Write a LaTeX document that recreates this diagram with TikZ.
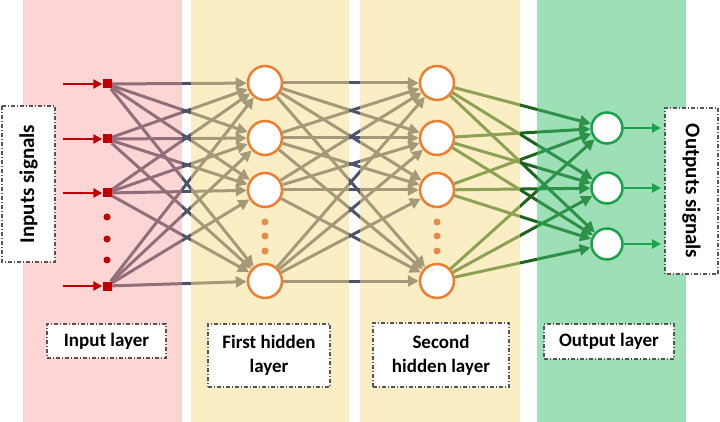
\documentclass[tikz,border=0pt]{standalone}
\usepackage{fontspec}
\setmainfont{Carlito}
\usetikzlibrary{arrows.meta}
\pgfdeclarelayer{lines}
\pgfdeclarelayer{bands}
\pgfsetlayers{lines,bands,main}
\definecolor{lgray}{HTML}{4E5468}
\definecolor{lgreen}{RGB}{30,100,30}
\definecolor{bpink}{RGB}{250,150,150}
\definecolor{byellow}{RGB}{251,223,139}
\definecolor{bgreen}{RGB}{61,193,113}
\definecolor{inred}{HTML}{C00000}
\definecolor{horange}{HTML}{ED7D31}
\definecolor{dorange}{HTML}{E8884A}
\definecolor{ogreen}{HTML}{1AA34A}
\definecolor{boxgray}{HTML}{555555}
\tikzset{
  inp/.style={rectangle, fill=inred, minimum size=9pt, inner sep=0pt},
  hid/.style={circle, draw=horange, line width=2.5pt, fill=white, minimum size=34pt, inner sep=0pt},
  outn/.style={circle, draw=ogreen, line width=2.5pt, fill=white, minimum size=31pt, inner sep=0pt},
  conn/.style={line width=3pt, draw=lgray, -{Triangle[length=11pt,width=11pt]}},
  gconn/.style={line width=3pt, draw=lgreen, -{Triangle[length=11pt,width=11pt]}},
  inarrow/.style={line width=2.6pt, draw=inred, -{Triangle[length=9pt,width=9pt]}},
  outarrow/.style={line width=2.6pt, draw=ogreen, -{Triangle[length=9pt,width=9pt]}},
  rdot/.style={circle, fill=inred, minimum size=7pt, inner sep=0pt},
  odot/.style={circle, fill=dorange, minimum size=7pt, inner sep=0pt},
  lbox/.style={draw=boxgray, fill=white, line width=1.2pt,
    dash pattern=on 4pt off 2pt on 1pt off 2pt, inner sep=0pt, align=center,
    font=\fontsize{19}{24}\selectfont\bfseries},
  sbox/.style={lbox, font=\fontsize{21}{25}\selectfont\bfseries},
}
\begin{document}
\begin{tikzpicture}[x=1pt,y=-1pt]
\useasboundingbox (0,0) rectangle (720,422);
\begin{pgfonlayer}{lines}
  \fill[white] (0,0) rectangle (720,422);
\end{pgfonlayer}
\begin{pgfonlayer}{bands}
  \fill[bpink, fill opacity=0.4] (23,0) rectangle (182,422);
  \fill[byellow, fill opacity=0.5] (191,0) rectangle (349,422);
  \fill[byellow, fill opacity=0.5] (360,0) rectangle (520,422);
  \fill[bgreen, fill opacity=0.5] (537,0) rectangle (686,422);
\end{pgfonlayer}
% input nodes
\node[inp] (in1) at (107,84) {};
\node[inp] (in2) at (107,139) {};
\node[inp] (in3) at (107,193) {};
\node[inp] (in4) at (107,286) {};
\node[rdot] (rd1) at (107,217) {};
\node[rdot] (rd2) at (107,239) {};
\node[rdot] (rd3) at (107,260) {};
% first hidden
\node[hid] (ha1) at (265,83) {};
\node[hid] (ha2) at (265,138) {};
\node[hid] (ha3) at (265,190) {};
\node[hid] (ha4) at (265,281) {};
\node[odot] (oa1) at (265,222) {};
\node[odot] (oa2) at (265,236) {};
\node[odot] (oa3) at (265,251) {};
% second hidden
\node[hid] (hb1) at (437,83) {};
\node[hid] (hb2) at (437,138) {};
\node[hid] (hb3) at (437,190) {};
\node[hid] (hb4) at (437,281) {};
\node[odot] (ob1) at (437,222) {};
\node[odot] (ob2) at (437,236) {};
\node[odot] (ob3) at (437,251) {};
% output
\node[outn] (o1) at (607,128) {};
\node[outn] (o2) at (607,188) {};
\node[outn] (o3) at (607,244) {};
% connectors
\begin{pgfonlayer}{lines}
  \foreach \i in {1,...,4}{
    \foreach \j in {1,...,4}{
      \draw[conn] (in\i) -- (ha\j);
      \draw[conn] (ha\i) -- (hb\j);
    }
    \foreach \k in {1,2,3}{
      \draw[gconn] (hb\i) -- (o\k);
    }
  }
\end{pgfonlayer}
% input arrows
\coordinate (s1) at (63,84);
\coordinate (s2) at (63,139);
\coordinate (s3) at (63,193);
\coordinate (s4) at (63,286);
\foreach \i in {1,...,4}{ \draw[inarrow] (s\i) -- (in\i); }
% output arrows
\coordinate (e1) at (661,128);
\coordinate (e2) at (661,188);
\coordinate (e3) at (661,244);
\foreach \k in {1,2,3}{ \draw[outarrow] (o\k) -- (e\k); }
% labels
\node[lbox, minimum width=119pt, minimum height=34pt] (l1) at (106.5,341) {Input layer};
\node[lbox, minimum width=122pt, minimum height=63pt] (l2) at (269,355.5) {First hidden\\layer};
\node[lbox, minimum width=136pt, minimum height=64pt] (l3) at (441,355) {Second\\hidden layer};
\node[lbox, minimum width=130pt, minimum height=35pt] (l4) at (609,341.5) {Output layer};
\node[sbox, rotate=90, minimum width=156pt, minimum height=53pt] (sin) at (28.5,184) {Inputs signals};
\node[sbox, rotate=-90, minimum width=166pt, minimum height=53pt] (sout) at (691.5,191) {Outputs signals};
\end{tikzpicture}
\end{document}
